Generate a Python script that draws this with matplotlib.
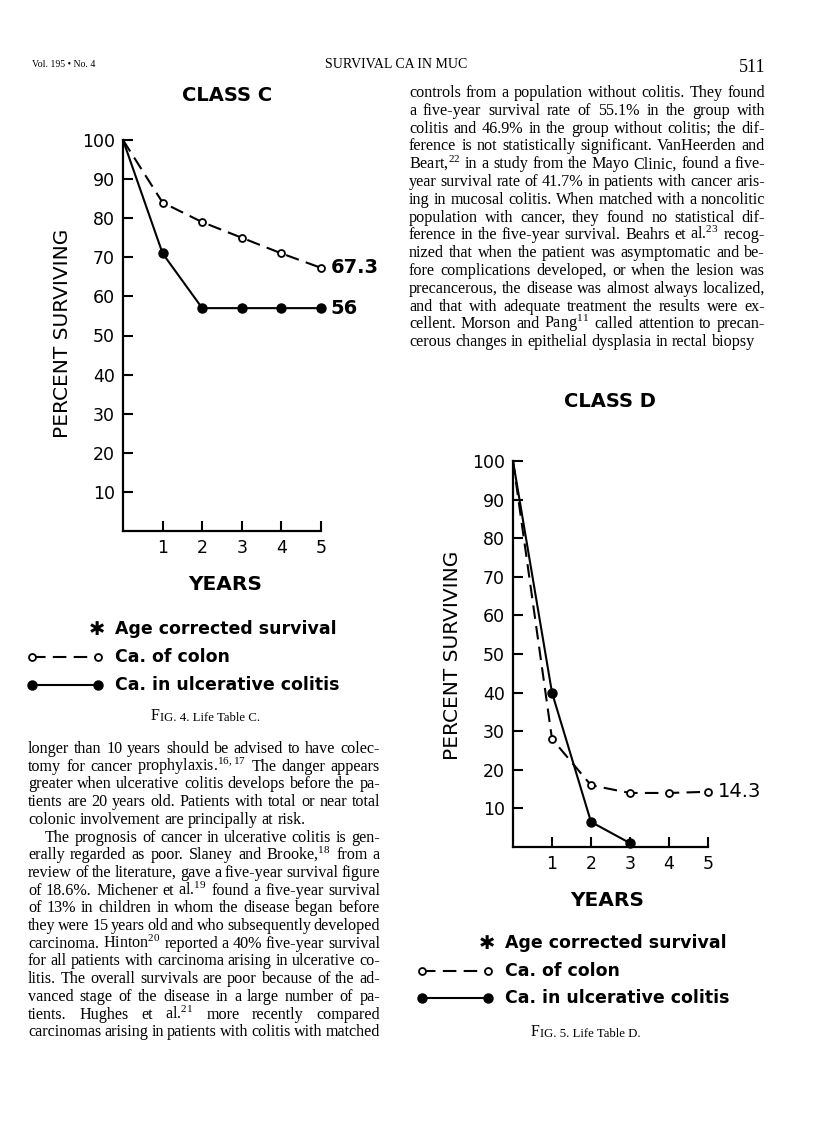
import matplotlib
matplotlib.use("Agg")
import matplotlib.pyplot as plt

plt.rcParams["mathtext.fontset"] = "custom"
plt.rcParams["mathtext.rm"] = "Liberation Serif"
plt.rcParams["mathtext.it"] = "Liberation Serif:italic"
plt.rcParams["mathtext.bf"] = "Liberation Serif:bold"

W, H, DPI = 816, 1138, 100

years = [0, 1, 2, 3, 4, 5]
c_colon = [100, 84, 79, 75, 71, 67.3]
c_colitis = [100, 71, 57, 57, 57, 57]
c_end_labels = ["67.3", "56"]

d_colon = [100, 28, 16, 14, 14, 14.3]
d_colitis_years = [0, 1, 2, 3]
d_colitis = [100, 40, 6.5, 1]
d_end_label = "14.3"

y_ticks = [10, 20, 30, 40, 50, 60, 70, 80, 90, 100]
x_ticks = [1, 2, 3, 4, 5]

legend_labels = ["Age corrected survival", "Ca. of colon", "Ca. in ulcerative colitis"]

left_col = [
    "longer than 10 years should be advised to have colec-",
    "tomy for cancer prophylaxis.$^{16,17}$ The danger appears",
    "greater when ulcerative colitis develops before the pa-",
    "tients are 20 years old. Patients with total or near total",
    "colonic involvement are principally at risk.",
    "The prognosis of cancer in ulcerative colitis is gen-",
    "erally regarded as poor. Slaney and Brooke,$^{18}$ from a",
    "review of the literature, gave a five-year survival figure",
    "of 18.6%. Michener et al.$^{19}$ found a five-year survival",
    "of 13% in children in whom the disease began before",
    "they were 15 years old and who subsequently developed",
    "carcinoma. Hinton$^{20}$ reported a 40% five-year survival",
    "for all patients with carcinoma arising in ulcerative co-",
    "litis. The overall survivals are poor because of the ad-",
    "vanced stage of the disease in a large number of pa-",
    "tients. Hughes et al.$^{21}$ more recently compared",
    "carcinomas arising in patients with colitis with matched",
]
right_col = [
    "controls from a population without colitis. They found",
    "a five-year survival rate of 55.1% in the group with",
    "colitis and 46.9% in the group without colitis; the dif-",
    "ference is not statistically significant. VanHeerden and",
    "Beart,$^{22}$ in a study from the Mayo Clinic, found a five-",
    "year survival rate of 41.7% in patients with cancer aris-",
    "ing in mucosal colitis. When matched with a noncolitic",
    "population with cancer, they found no statistical dif-",
    "ference in the five-year survival. Beahrs et al.$^{23}$ recog-",
    "nized that when the patient was asymptomatic and be-",
    "fore complications developed, or when the lesion was",
    "precancerous, the disease was almost always localized,",
    "and that with adequate treatment the results were ex-",
    "cellent. Morson and Pang$^{11}$ called attention to precan-",
    "cerous changes in epithelial dysplasia in rectal biopsy",
]

fig = plt.figure(figsize=(W / DPI, H / DPI), dpi=DPI)
fig.patch.set_facecolor("white")

# page overlay in pixel coordinates
page = fig.add_axes([0, 0, 1, 1])
page.set_xlim(0, W)
page.set_ylim(H, 0)
page.axis("off")

renderer = fig.canvas.get_renderer()
SERIF = "Liberation Serif"
SANS = "DejaVu Sans"
BODY = 11.6


def text_line(s, x0, x1, y, justify=True, size=BODY):
    words = s.split(" ")
    arts = [page.text(0, y, w, fontsize=size, family=SERIF, va="baseline", ha="left") for w in words]
    widths = [a.get_window_extent(renderer).width for a in arts]
    if justify and len(words) > 1:
        gap = (x1 - x0 - sum(widths)) / (len(words) - 1)
    else:
        gap = size * 0.25 * DPI / 72
    x = x0
    for a, w in zip(arts, widths):
        a.set_x(x)
        x += w + gap


def column(lines, x0, x1, y_first, step, last_lines=(), indents=()):
    for i, s in enumerate(lines):
        xs = x0 + (17 if i in indents else 0)
        text_line(s, xs, x1, y_first + i * step, justify=i not in last_lines)


# running head
page.text(32, 67, "Vol. 195 • No. 4", fontsize=7, family=SERIF, va="baseline")
page.text(396, 68, "SURVIVAL CA IN MUC", fontsize=10, family=SERIF, va="baseline", ha="center")
page.text(765, 72, "511", fontsize=13, family=SERIF, va="baseline", ha="right")

column(left_col, 28, 380, 753, 17.7, last_lines=(4,), indents=(5,))
column(right_col, 409, 765, 97, 17.8, last_lines=(14,))


def chart(x0, x5, y0, y100, colon_x, colon_y, colitis_x, colitis_y):
    ax = fig.add_axes([x0 / W, 1 - y0 / H, (x5 - x0) / W, (y0 - y100) / H])
    ax.set_xlim(0, 5)
    ax.set_ylim(0, 100)
    ax.patch.set_alpha(0)
    for sp in ["top", "right"]:
        ax.spines[sp].set_visible(False)
    for sp in ["left", "bottom"]:
        ax.spines[sp].set_linewidth(1.6)
    ax.set_xticks(x_ticks)
    ax.set_yticks(y_ticks)
    ax.tick_params(direction="in", length=7, width=1.5, labelsize=12.5, pad=6)
    ax.plot(colon_x, colon_y, color="black", lw=1.5, dashes=(6.5, 3.5),
            marker="o", ms=5, mfc="white", mec="black", mew=1.3,
            markevery=slice(1, None), clip_on=False, zorder=3)
    ax.plot(colitis_x, colitis_y, color="black", lw=1.5,
            marker="o", ms=6.5, mfc="black", mec="black",
            markevery=slice(1, None), clip_on=False, zorder=3)
    return ax


ax_c = chart(123, 321, 531, 140, years, c_colon, years, c_colitis)
ax_c.annotate(c_end_labels[0], (years[-1], c_colon[-1]), xytext=(7, 0), textcoords="offset points",
              va="center", fontsize=14, fontweight="bold", family=SANS)
ax_c.annotate(c_end_labels[1], (years[-1], c_colitis[-1]), xytext=(7, 0), textcoords="offset points",
              va="center", fontsize=14, fontweight="bold", family=SANS)

ax_d = chart(513, 708, 847, 461, years, d_colon, d_colitis_years, d_colitis)
ax_d.annotate(d_end_label, (years[-1], d_colon[-1]), xytext=(7, 0), textcoords="offset points",
              va="center", fontsize=14, family=SANS)


def decorate(title_xy, ylab_xy, years_xy, leg_x_marker, leg_x_text, leg_y, glyph_x, cap_xy, cap_num):
    page.text(*title_xy, "CLASS " + cap_num[1], fontsize=14, fontweight="bold", family=SANS,
              ha="center", va="center")
    page.text(*ylab_xy, "PERCENT SURVIVING", fontsize=14.5, family=SANS, rotation=90,
              ha="center", va="center")
    page.text(*years_xy, "YEARS", fontsize=14.5, fontweight="bold", family=SANS, ha="center", va="center")
    page.text(leg_x_marker, leg_y[0], "✱", fontsize=14, family=SANS, ha="center", va="center")
    for lab, yy in zip(legend_labels, leg_y):
        page.text(leg_x_text, yy, lab, fontsize=12.5, fontweight="bold", family=SANS,
                  ha="left", va="center")
    ga, gb = glyph_x
    page.plot([ga, gb], [leg_y[1], leg_y[1]], color="black", lw=1.5, dashes=(6.5, 3.5),
              marker="o", ms=5, mfc="white", mec="black", mew=1.3)
    page.plot([ga, gb], [leg_y[2], leg_y[2]], color="black", lw=1.5,
              marker="o", ms=6.5, mfc="black", mec="black")
    cap = page.text(cap_xy[0] - 54, cap_xy[1], "F", fontsize=11.5, family=SERIF, va="baseline", ha="left")
    page.annotate("IG. " + cap_num[0] + ". Life Table " + cap_num[1] + ".", xy=(1, 0), xycoords=cap,
                  fontsize=9.2, family=SERIF, va="bottom", ha="left")


decorate((227, 95), (62, 333), (225, 584), 97, 115, (629, 657, 685), (32, 98), (205, 720), ("4", "C"))
decorate((610, 401), (452, 655), (607, 900), 487, 505, (943, 971, 998), (422, 488), (585, 1036), ("5", "D"))

fig.savefig("out.png", dpi=DPI, facecolor="white")
